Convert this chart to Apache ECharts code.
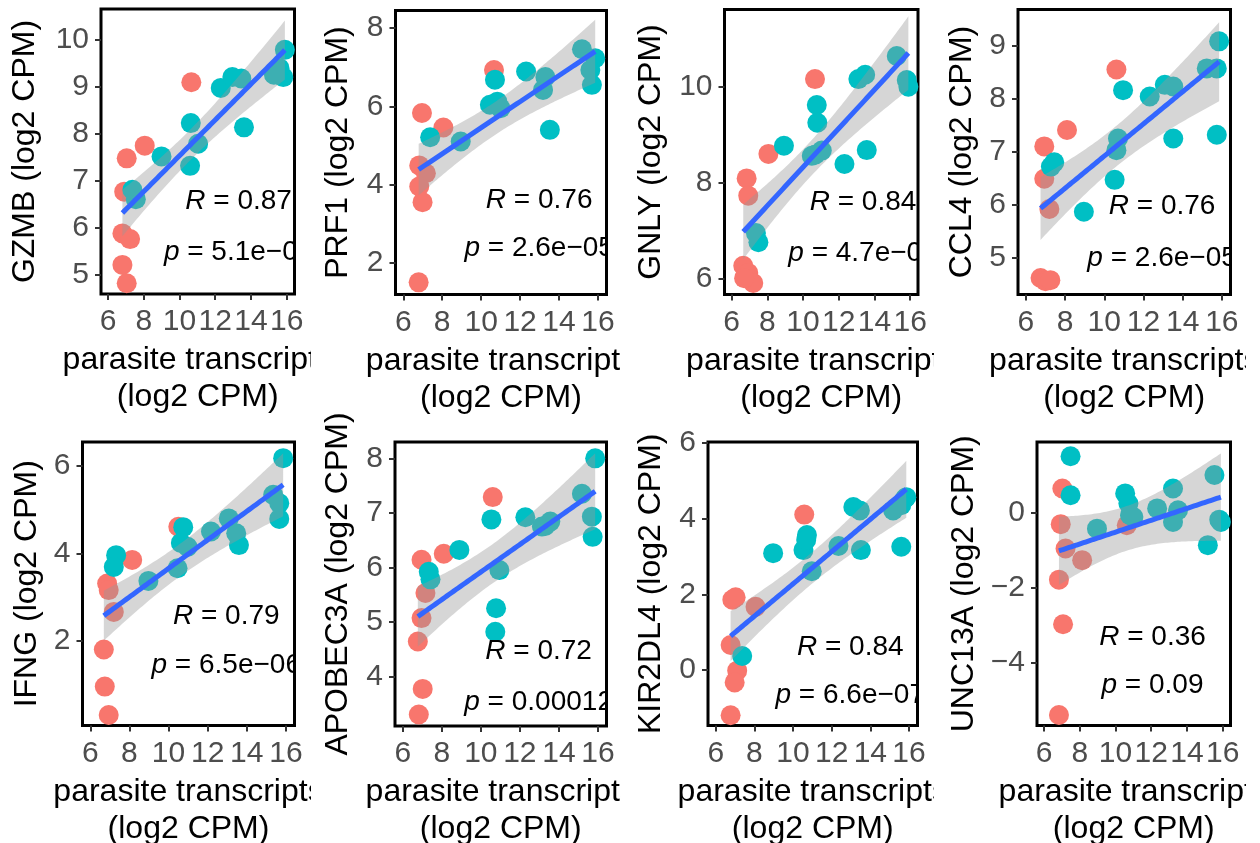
<!DOCTYPE html>
<html><head><meta charset="utf-8">
<script src="https://cdn.jsdelivr.net/npm/echarts@6/dist/echarts.min.js"></script>
<style>
html,body{margin:0;padding:0;background:#fff;width:1260px;height:843px;overflow:hidden;position:relative;}
.cell{position:absolute;overflow:hidden;}
</style></head><body>
<script>
// ---------------- DATA ----------------
const genes = ['GZMB','PRF1','GNLY','CCL4','IFNG','APOBEC3A','KIR2DL4','UNC13A'];
const rValues = ['0.87','0.76','0.84','0.76','0.79','0.72','0.84','0.36'];
const pValues = ['5.1e\u221208','2.6e\u221205','4.7e\u221207','2.6e\u221205','6.5e\u221206','0.00012','6.6e\u221207','0.09'];
const xTicks = [6,8,10,12,14,16];
const xTitle = 'parasite transcripts\n(log2 CPM)';

const yTicksGZMB = [5,6,7,8,9,10];
const yTicksPRF1 = [2,4,6,8];
const yTicksGNLY = [6,8,10];
const yTicksCCL4 = [5,6,7,8,9];
const yTicksIFNG = [2,4,6];
const yTicksAPOBEC3A = [4,5,6,7,8];
const yTicksKIR2DL4 = [0,2,4,6];
const yTicksUNC13A = [-4,-2,0];

const redGZMB = [[7.04,7.48],[8.05,7.75],[10.66,9.10],[6.9,6.77],[6.8,5.88],[7.23,5.76],[6.8,5.21],[7.04,4.82]];
const tealGZMB = [[7.36,6.81],[7.55,6.61],[8.99,7.52],[10.63,8.23],[11.04,7.79],[10.59,7.32],[12.31,8.98],[12.96,9.21],[13.46,9.18],[13.61,8.14],[15.29,9.26],[15.81,9.21],[15.9,9.79],[15.6,9.4]];

const redPRF1 = [[6.96,5.83],[8.06,5.46],[10.66,6.93],[6.82,4.49],[7.16,4.29],[6.82,3.95],[6.99,3.55],[6.79,1.50]];
const tealPRF1 = [[7.38,5.21],[8.95,5.10],[10.45,6.04],[10.71,6.68],[10.83,6.12],[11.0,5.95],[12.31,6.89],[13.18,6.42],[13.3,6.75],[13.53,5.40],[15.18,7.46],[15.86,7.23],[15.61,6.93],[15.69,6.55]];

const redGNLY = [[10.67,10.17],[8.06,8.61],[6.84,8.10],[6.93,7.74],[6.65,6.28],[6.93,6.13],[7.21,5.92],[6.7,6.02]];
const tealGNLY = [[7.36,6.96],[7.5,6.77],[8.93,8.78],[10.49,8.57],[10.77,9.63],[10.8,9.26],[11.05,8.68],[12.32,8.40],[13.1,10.17],[13.48,10.26],[13.57,8.69],[15.25,10.65],[15.81,10.15],[15.9,10.01],[10.7,8.6]];

const redCCL4 = [[10.62,8.55],[8.1,7.41],[6.94,7.10],[6.94,6.49],[7.2,5.92],[6.75,4.62],[7.0,4.56],[7.25,4.58]];
const tealCCL4 = [[7.45,6.80],[7.28,6.72],[8.96,5.87],[10.53,6.47],[10.96,8.16],[10.7,7.25],[10.62,7.03],[12.32,8.04],[13.09,8.26],[13.52,8.23],[13.52,7.25],[15.23,8.57],[15.74,7.32],[15.74,8.57],[15.86,9.08]];

const redIFNG = [[10.5,4.61],[8.14,3.85],[6.86,3.31],[6.94,3.16],[7.2,2.66],[6.69,1.80],[6.74,0.95],[6.94,0.30]];
const tealIFNG = [[7.32,3.96],[7.2,3.69],[8.97,3.37],[10.46,3.66],[10.75,4.60],[10.63,4.24],[10.97,4.15],[12.17,4.50],[13.08,4.80],[13.46,4.46],[13.6,4.19],[15.35,5.34],[15.66,5.15],[15.66,4.79],[15.86,6.18]];

const redAPOBEC3A = [[10.61,7.29],[8.10,6.25],[6.96,6.14],[7.16,5.53],[6.96,5.07],[6.77,4.64],[7.02,3.77],[6.82,3.30]];
const tealAPOBEC3A = [[7.33,5.92],[7.42,5.78],[8.9,6.32],[10.54,6.88],[10.78,5.25],[10.74,4.82],[10.95,5.95],[12.28,6.92],[13.13,6.75],[13.56,6.84],[13.3,6.76],[15.18,7.35],[15.69,6.93],[15.73,6.56],[15.86,8.0]];

const redKIR2DL4 = [[10.58,4.11],[8.06,1.67],[6.86,1.86],[7.03,1.92],[6.77,0.66],[7.11,-0.02],[6.98,-0.33],[6.77,-1.2]];
const tealKIR2DL4 = [[7.37,0.37],[8.97,3.09],[10.54,3.17],[10.72,3.57],[10.68,3.44],[10.97,2.61],[12.35,3.28],[13.12,4.31],[13.46,4.22],[13.51,3.17],[15.18,4.22],[15.6,3.26],[15.78,4.53],[15.86,4.57],[15.6,4.36]];

const redUNC13A = [[7.02,0.64],[6.93,-0.31],[7.2,-0.96],[8.13,-1.27],[6.83,-1.79],[7.06,-2.98],[6.83,-5.40],[10.63,-0.34]];
const tealUNC13A = [[7.48,1.50],[7.48,0.46],[8.96,-0.43],[10.54,0.51],[10.72,0.24],[10.81,-0.07],[11.0,-0.12],[12.33,0.11],[13.22,0.64],[13.22,-0.25],[13.5,0.06],[15.17,-0.87],[15.54,1.0],[15.81,-0.19],[15.9,-0.25]];

// ---------------- LAYOUT / STYLE ----------------
const FONT = '"Liberation Sans", Arial, Helvetica, sans-serif';
const RED = '#F8766D', TEAL = '#00BFC4', BLUE = '#3366FF';
const cols = [[0,311],[315,621],[630,934],[945,1246]];
const rows = [[0,420],[370,473]];
const panels = [
  {red:redGZMB, teal:tealGZMB, yTicks:yTicksGZMB, y:[4.59,10.66], box:[101,9,294.5,294], col:0,row:0, lab:[13.31,6.56,5.48], gap:60},
  {red:redPRF1, teal:tealPRF1, yTicks:yTicksPRF1, y:[1.19,8.45], box:[395.5,10.5,606.5,294.5], col:1,row:0, lab:[12.98,3.61,2.37], gap:41},
  {red:redGNLY, teal:tealGNLY, yTicks:yTicksGNLY, y:[5.68,11.62], box:[724.5,9.5,918,294.5], col:2,row:0, lab:[13.36,7.60,6.54], gap:57},
  {red:redCCL4, teal:tealCCL4, yTicks:yTicksCCL4, y:[4.31,9.68], box:[1018,9.5,1230.5,294.5], col:3,row:0, lab:[12.95,5.97,5.0], gap:36},
  {red:redIFNG, teal:tealIFNG, yTicks:yTicksIFNG, y:[0.06,6.55], box:[82.5,442,294.5,725.5], col:0,row:1, lab:[12.95,2.57,1.44], gap:38},
  {red:redAPOBEC3A, teal:tealAPOBEC3A, yTicks:yTicksAPOBEC3A, y:[3.09,8.30], box:[395,442,606.5,726], col:1,row:1, lab:[12.96,4.46,3.52], gap:41},
  {red:redKIR2DL4, teal:tealKIR2DL4, yTicks:yTicksKIR2DL4, y:[-1.47,6.03], box:[708,442,917.5,725.5], col:2,row:1, lab:[12.96,0.59,-0.66], gap:41},
  {red:redUNC13A, teal:tealUNC13A, yTicks:yTicksUNC13A, y:[-5.68,1.88], box:[1037,442,1230.5,725.5], col:3,row:1, lab:[12.07,-3.32,-4.61], gap:55}
];
const X_MIN = 5.6, X_MAX = 16.44;

// t quantile (0.975) approximation
function tq(df){
  const z = 1.959964;
  return z + (z**3+z)/(4*df) + (5*z**5+16*z**3+3*z)/(96*df*df) + (3*z**7+19*z**5+17*z**3-15*z)/(384*df**3);
}
function lmFit(pts){
  const n = pts.length;
  const mx = pts.reduce((s,p)=>s+p[0],0)/n, my = pts.reduce((s,p)=>s+p[1],0)/n;
  let sxx=0, sxy=0;
  pts.forEach(p=>{sxx+=(p[0]-mx)**2; sxy+=(p[0]-mx)*(p[1]-my);});
  const b = sxy/sxx, a = my-b*mx;
  let sse=0; pts.forEach(p=>{sse+=(p[1]-a-b*p[0])**2;});
  const s2 = sse/(n-2), t = tq(n-2);
  const xmin = Math.min(...pts.map(p=>p[0])), xmax = Math.max(...pts.map(p=>p[0]));
  const fit=[], up=[], lo=[];
  for(let i=0;i<80;i++){
    const x = xmin + (xmax-xmin)*i/79;
    const yh = a+b*x, se = Math.sqrt(s2*(1/n+(x-mx)**2/sxx));
    fit.push([x,yh]); up.push([x,yh+t*se]); lo.push([x,yh-t*se]);
  }
  return {fit, up, lo};
}

panels.forEach((P,i)=>{
  const [cl, cr] = cols[P.col], [rt, rh] = rows[P.row];
  const div = document.createElement('div');
  div.className='cell';
  div.style.left = cl+'px'; div.style.top = rt+'px';
  div.style.width = (cr-cl)+'px'; div.style.height = rh+'px';
  document.body.appendChild(div);
  const chart = echarts.init(div, null, {renderer:'canvas'});
  const all = P.red.concat(P.teal);
  const m = lmFit(all);
  const [bl,bt,br,bb] = P.box;
  const fmt = v => String(v).replace('-', '\u2212');
  chart.setOption({
    animation:false,
    grid:{left:bl-cl, top:bt-rt, width:br-bl, height:bb-bt, show:true, borderColor:'#000', borderWidth:3,
      backgroundColor:'#fff', containLabel:false, outerBoundsMode:'none'},
    xAxis:{type:'value', min:X_MIN, max:X_MAX,
      axisLine:{show:false, onZero:false}, splitLine:{show:false},
      axisTick:{show:true, customValues:xTicks, length:6, lineStyle:{color:'#333', width:2}},
      axisLabel:{customValues:xTicks, fontSize:30, color:'#4D4D4D', fontFamily:FONT, margin:13, formatter:fmt,
        showMinLabel:true, showMaxLabel:true, hideOverlap:false},
      name:xTitle, nameLocation:'middle', nameGap:46,
      nameTextStyle:{fontSize:32, lineHeight:37, color:'#000', fontFamily:FONT}},
    yAxis:{type:'value', min:P.y[0], max:P.y[1],
      axisLine:{show:false, onZero:false}, splitLine:{show:false},
      axisTick:{show:true, customValues:P.yTicks, length:6, lineStyle:{color:'#333', width:2}},
      axisLabel:{customValues:P.yTicks, fontSize:30, color:'#4D4D4D', fontFamily:FONT, margin:12, formatter:fmt,
        showMinLabel:true, showMaxLabel:true, hideOverlap:false},
      name:genes[i]+' (log2 CPM)', nameLocation:'middle', nameGap:P.gap,
      nameTextStyle:{fontSize:32, color:'#000', fontFamily:FONT}},
    series:[
      {type:'scatter', data:P.red, symbolSize:20, itemStyle:{color:RED, opacity:1}, clip:false, z:2},
      {type:'scatter', data:P.teal, symbolSize:20, itemStyle:{color:TEAL, opacity:1}, clip:false, z:2},
      {type:'custom', data:[[m.fit[0][0], m.fit[0][1]]], clip:true, z:3, silent:true,
        renderItem:(params, api)=>{
          const pts = m.up.map(p=>api.coord(p)).concat(m.lo.slice().reverse().map(p=>api.coord(p)));
          return {type:'polygon', shape:{points:pts}, style:{fill:'rgba(153,153,153,0.4)'}};
        }},
      {type:'line', data:m.fit, showSymbol:false, symbol:'none', lineStyle:{color:BLUE, width:5}, z:4, silent:true},
      {type:'custom', data:[[P.lab[0],P.lab[1]],[P.lab[0],P.lab[2]]], clip:true, z:5, silent:true,
        renderItem:(params, api)=>{
          const c = api.coord([api.value(0), api.value(1)]);
          const txt = params.dataIndex===0 ? '{i|R} = '+rValues[i] : '{i|p} = '+pValues[i];
          return {type:'text', x:c[0], y:c[1], style:{text:txt, fill:'#000', fontSize:28, fontFamily:FONT,
            align:'center', verticalAlign:'middle',
            rich:{i:{fontStyle:'italic', fontSize:28, fontFamily:FONT, fill:'#000'}}}};
        }}
    ]
  });
});
</script>
</body></html>
